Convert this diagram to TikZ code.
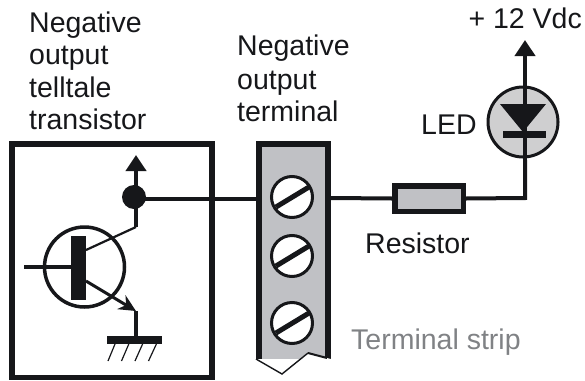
\documentclass[tikz,border=0pt]{standalone}
\usepackage{fontspec}
\setmainfont{Liberation Sans}
\usetikzlibrary{arrows.meta}
\definecolor{ink}{HTML}{16171A}
\definecolor{strip}{HTML}{C0C1C5}
\definecolor{ledfill}{HTML}{CFCFD0}
\definecolor{greytext}{HTML}{808285}
\tikzset{
  wire/.style={draw=ink,line width=4pt},
  thin wire/.style={draw=ink,line width=2.2pt},
  lbl/.style={font=\fontsize{28.5}{33}\selectfont,text=ink,inner sep=0pt,align=left,anchor=base west},
  screw/.style={circle,draw=ink,fill=white,line width=3pt,minimum size=41pt,inner sep=0pt},
  slot/.style={draw=ink,line width=5pt},
  uparrow/.style={-{Triangle[length=16pt,width=20pt]},draw=ink,line width=4pt},
}
\begin{document}
\begin{tikzpicture}[x=1pt,y=-1pt]
\useasboundingbox (0,0) rectangle (585,380);
% coordinates
\coordinate (vcc) at (525,40);
\coordinate (corner) at (525,198);
\coordinate (pull) at (136,155);
\coordinate (coll) at (136,227);
\coordinate (emit) at (136,311);
\coordinate (gnd) at (136,340);
\coordinate (basein) at (24,267);
\coordinate (colb) at (86,250);
\coordinate (emib) at (86,281);
\coordinate (node) at (136,199);
% box
\node[draw=ink,line width=5.5pt,fill=white,minimum width=200pt,minimum height=233.5pt,inner sep=0pt] (box) at (112,260.5) {};
% transistor
\node[circle,draw=ink,line width=3.5pt,fill=white,minimum size=80pt,inner sep=0pt] (tr) at (84.5,267) {};
\node[fill=ink,minimum width=15pt,minimum height=64pt,inner sep=0pt] (bar) at (78.5,268) {};
\draw[wire] (basein) -- (bar.west |- basein);
\draw[thin wire] (colb) -- (coll);
\draw[thin wire,line width=3pt,-{Stealth[length=17pt,width=16pt]}] (emib) -- (emit);
\draw[wire] (emit |- 0,311) -- (gnd);
\node[fill=ink,minimum width=55pt,minimum height=8pt,inner sep=0pt] (gbar) at (134.5,340) {};
\foreach \i in {0,1,2,3}{
  \coordinate (h\i a) at ({115+13.8*\i},344);
  \coordinate (h\i b) at ({108+13.5*\i},361);
  \draw[draw=ink,line width=1.2pt] (h\i a) -- (h\i b);
}
% terminal strip
\fill[strip] (259,144) rectangle (328,359);
\draw[draw=ink,line width=6pt] (259,359) -- (259,144) -- (328,144) -- (328,359);
\coordinate (z1) at (256,359);
\coordinate (z2) at (282,374);
\coordinate (z3) at (308,353);
\coordinate (z4) at (327,358);
\fill[white] (z3) -- (z4) -- (331,359) -- (331,381) -- (256,381) -- (z1) -- (z2) -- cycle;
\draw[draw=ink,line width=1.4pt] (z1) -- (z2) -- (z3);
\draw[draw=ink,line width=2pt] (z3) -- (z4);
\foreach \n/\y in {s1/197,s2/256,s3/323}{
  \node[screw] (\n) at (292,\y) {};
  \draw[slot] (\n.center) ++(-16,10) -- ++(33,-20);
}
% wires
\draw[wire] (coll) -- (node);
\draw[uparrow] (node) -- (pull);
\node[circle,fill=ink,minimum size=24pt,inner sep=0pt] (dot) at (134,197) {};
\draw[wire] (node) -- (256,199);
% resistor
\node[draw=ink,line width=5.5pt,fill=strip,minimum width=68.5pt,minimum height=25.5pt,inner sep=0pt] (res) at (429,198.5) {};
\draw[wire] (331,198) -- (res.west);
\draw[wire] (res.east) -- (corner) -- (525,160);
% LED
\node[circle,draw=ink,line width=3pt,fill=ledfill,minimum size=70pt,inner sep=0pt] (led) at (523,122) {};
\draw[uparrow] (corner) -- (vcc);
\fill[ink] (500,104) -- (546,104) -- (523,132) -- cycle;
\node[fill=ink,minimum width=43pt,minimum height=7pt,inner sep=0pt] (ledbar) at (524.5,134.5) {};
% labels
\node[lbl] (l1) at (29,32) {Negative};
\node[lbl] (l2) at (29,64) {output};
\node[lbl] (l3) at (29,97) {telltale};
\node[lbl] (l4) at (29,129) {transistor};
\node[lbl] (l5) at (237,55) {Negative};
\node[lbl] (l6) at (237,89) {output};
\node[lbl] (l7) at (237,121) {terminal};
\node[lbl,anchor=base east] (plus) at (582,28) {+ 12 Vdc};
\node[lbl] (ledl) at (421,134) {LED};
\node[lbl] (resl) at (365,253) {Resistor};
\node[lbl,text=greytext] (strl) at (351,349) {Terminal strip};
\end{tikzpicture}
\end{document}
